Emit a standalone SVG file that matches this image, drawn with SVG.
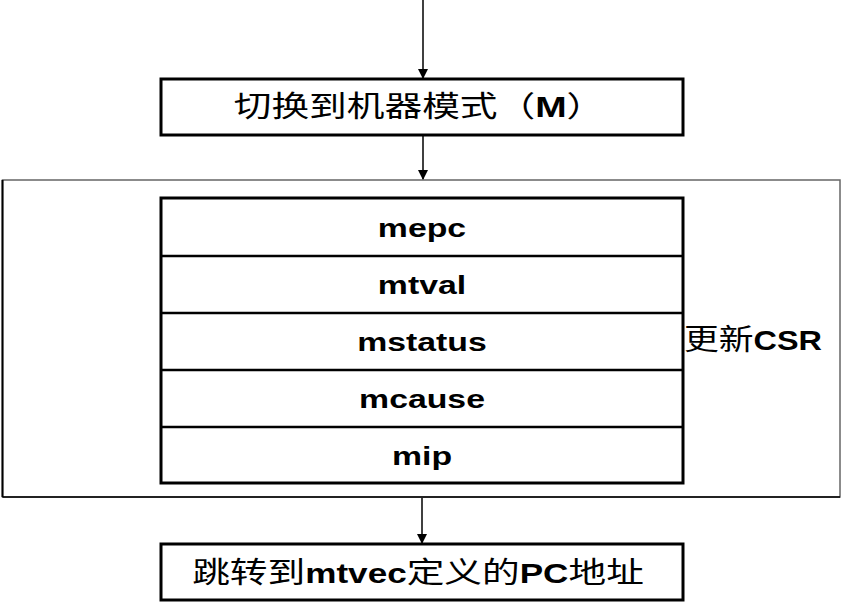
<svg xmlns="http://www.w3.org/2000/svg" width="841" height="605" viewBox="0 0 841 605">
<style>
.box{fill:#fff;stroke:#000;stroke-width:3}
.row{fill:none;stroke:#000;stroke-width:2.5}
.t{font-family:"Liberation Sans","Noto Sans CJK SC",sans-serif;font-weight:bold;font-size:26px;fill:#000;text-anchor:middle}
.c{font-family:"Noto Sans CJK SC","Liberation Sans",sans-serif;font-size:29px;fill:#000;text-anchor:middle}
.l{font-family:"Liberation Sans",sans-serif;font-weight:bold}
.conn{stroke:#000;stroke-width:1.5;fill:none}
</style>
<defs>
<marker id="ah" markerWidth="10" markerHeight="10" refX="9" refY="5" orient="auto" markerUnits="userSpaceOnUse">
<path d="M0,0 L10,5 L0,10 Z" fill="#000"/>
</marker>
</defs>
<rect width="841" height="605" fill="#fff"/>
<g id="frame">
<rect x="2.5" y="180" width="837.5" height="317" fill="none" stroke="#666" stroke-width="1.5"/>
<line x1="2.5" y1="180" x2="2.5" y2="497" stroke="#000" stroke-width="2"/>
<line x1="2.5" y1="497" x2="840" y2="497" stroke="#000" stroke-width="1.5"/>
</g>
<g id="switch">
<rect class="box" x="161" y="79" width="522" height="56"/>
<text class="c" transform="translate(419,117) scale(1.3,1)">切换到机器模式（<tspan class="l">M</tspan>）</text>
</g>
<g id="csr">
<rect class="box" x="161" y="198" width="522" height="285"/>
<line class="row" x1="161" y1="256" x2="683" y2="256"/>
<line class="row" x1="161" y1="313" x2="683" y2="313"/>
<line class="row" x1="161" y1="370" x2="683" y2="370"/>
<line class="row" x1="161" y1="427" x2="683" y2="427"/>
<text class="t" transform="translate(422,237) scale(1.3,1)">mepc</text>
<text class="t" transform="translate(422,294) scale(1.3,1)">mtval</text>
<text class="t" transform="translate(422,351) scale(1.3,1)">mstatus</text>
<text class="t" transform="translate(422,408) scale(1.3,1)">mcause</text>
<text class="t" transform="translate(422,465) scale(1.3,1)">mip</text>
</g>
<g id="label">
<text transform="translate(684,350) scale(1.2,1)" font-family="Noto Sans CJK SC,sans-serif" font-size="29" fill="#000">更新<tspan class="l" font-size="27">CSR</tspan></text>
</g>
<g id="jump">
<rect class="box" x="161" y="544" width="522" height="56"/>
<text class="c" transform="translate(418,583) scale(1.3,1)">跳转到<tspan class="l" font-size="27">mtvec</tspan>定义的<tspan class="l" font-size="27">PC</tspan>地址</text>
</g>
<g id="connectors">
<line class="conn" x1="423" y1="0" x2="423" y2="78" marker-end="url(#ah)"/>
<line class="conn" x1="423" y1="136" x2="423" y2="179" marker-end="url(#ah)"/>
<line class="conn" x1="422" y1="498" x2="422" y2="543" marker-end="url(#ah)"/>
</g>
</svg>
